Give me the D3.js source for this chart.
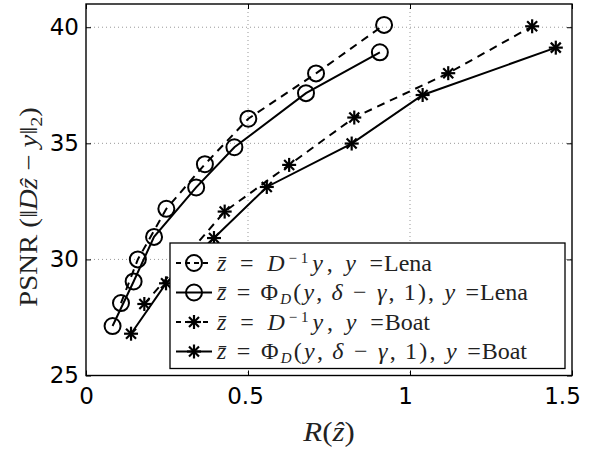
<!DOCTYPE html>
<html><head><meta charset="utf-8">
<script src="https://cdn.jsdelivr.net/npm/d3@7"></script>
<style>body{margin:0;background:#fff}svg{display:block}</style>
</head><body>
<svg id="c" width="593" height="451"></svg>
<script>
const xTicks = [0, 0.5, 1, 1.5];
const yTicks = [25, 30, 35, 40];
const xTickLabels = ["0", "0.5", "1", "1.5"];
const yTickLabels = ["25", "30", "35", "40"];

const lenaInvR = [0.108, 0.160, 0.248, 0.367, 0.501, 0.710, 0.920];
const lenaInvP = [28.12, 30.00, 32.18, 34.10, 36.06, 38.01, 40.10];
const lenaPhiR = [0.082, 0.147, 0.210, 0.340, 0.458, 0.679, 0.907];
const lenaPhiP = [27.13, 29.05, 30.97, 33.10, 34.83, 37.16, 38.92];
const boatInvR = [0.180, 0.300, 0.428, 0.627, 0.828, 1.118, 1.377];
const boatInvP = [28.08, 30.00, 32.06, 34.07, 36.11, 38.02, 40.04];
const boatPhiR = [0.139, 0.247, 0.395, 0.558, 0.820, 1.039, 1.450];
const boatPhiP = [26.80, 28.97, 30.92, 33.12, 34.99, 37.08, 39.12];

const series = [
  {r: lenaInvR, p: lenaInvP, dashed: true, marker: "circle"},
  {r: lenaPhiR, p: lenaPhiP, dashed: false, marker: "circle"},
  {r: boatInvR, p: boatInvP, dashed: true, marker: "star"},
  {r: boatPhiR, p: boatPhiP, dashed: false, marker: "star"}
];

const svg = d3.select("#c");
const L = 86, R = 572, T = 4, B = 375.5;
const x = d3.scaleLinear().domain([0, 1.5]).range([L, R]);
const y = d3.scaleLinear().domain([25, 41]).range([B, T]);

// grid
const g = svg.append("g");
xTicks.filter(v => v > 0 && v < 1.5).forEach(v => {
  g.append("line").attr("x1", x(v)).attr("x2", x(v)).attr("y1", T).attr("y2", B)
   .attr("stroke", "#999").attr("stroke-width", 1).attr("stroke-dasharray", "1,3");
});
yTicks.filter(v => v > 25).forEach(v => {
  g.append("line").attr("x1", L).attr("x2", R).attr("y1", y(v)).attr("y2", y(v))
   .attr("stroke", "#999").attr("stroke-width", 1).attr("stroke-dasharray", "1,3");
});

// axes with inward ticks on all sides
const xLabelShift = [0, -3, -5, -10];
const axB = svg.append("g").attr("transform", `translate(0,${B})`)
  .call(d3.axisBottom(x).tickValues(xTicks).tickFormat((d, i) => xTickLabels[i]).tickSizeInner(-5).tickSizeOuter(0).tickPadding(12));
const axT = svg.append("g").attr("transform", `translate(0,${T})`)
  .call(d3.axisTop(x).tickValues(xTicks).tickFormat("").tickSizeInner(-5).tickSizeOuter(0));
const axL = svg.append("g").attr("transform", `translate(${L},0)`)
  .call(d3.axisLeft(y).tickValues(yTicks).tickFormat((d, i) => yTickLabels[i]).tickSizeInner(-5).tickSizeOuter(0).tickPadding(7));
const axR = svg.append("g").attr("transform", `translate(${R},0)`)
  .call(d3.axisRight(y).tickValues(yTicks).tickFormat("").tickSizeInner(-5).tickSizeOuter(0));
[axB, axT, axL, axR].forEach(a => {
  a.select(".domain").remove();
  a.selectAll("line").attr("stroke", "#000").attr("stroke-width", 1);
  a.selectAll("text").attr("font-family", "DejaVu Sans, sans-serif").attr("font-size", 23).attr("fill", "#000");
});
axB.selectAll("text").attr("dy", "0.71em").attr("dx", (d, i) => xLabelShift[i]);
svg.append("rect").attr("x", L).attr("y", T).attr("width", R - L).attr("height", B - T)
  .attr("fill", "none").attr("stroke", "#000").attr("stroke-width", 1.4);

// markers
function drawMarker(sel, type, cx, cy) {
  if (type === "circle") {
    sel.append("circle").attr("cx", cx).attr("cy", cy).attr("r", 8)
      .attr("fill", "none").attr("stroke", "#000").attr("stroke-width", 2);
  } else {
    const s = 7, d = 5;
    const segs = [[-s,0,s,0],[0,-s,0,s],[-d,-d,d,d],[-d,d,d,-d]];
    segs.forEach(q => sel.append("line").attr("x1", cx+q[0]).attr("y1", cy+q[1])
      .attr("x2", cx+q[2]).attr("y2", cy+q[3]).attr("stroke", "#000").attr("stroke-width", 2.2));
  }
}

const line = d3.line().x(d => x(d[0])).y(d => y(d[1]));
series.forEach(s => {
  const pts = s.r.map((v, i) => [v, s.p[i]]);
  svg.append("path").attr("d", line(pts)).attr("fill", "none").attr("stroke", "#000")
    .attr("stroke-width", 2).attr("stroke-dasharray", s.dashed ? "8,6" : null);
  const mg = svg.append("g");
  pts.forEach(p => drawMarker(mg, s.marker, x(p[0]), y(p[1])));
});

// legend
const lg = svg.append("g");
lg.append("rect").attr("x", 170).attr("y", 243).attr("width", 395).attr("height", 125.5)
  .attr("fill", "#fff").attr("stroke", "#000").attr("stroke-width", 1.3);
const rowsY = [263, 292.5, 322, 351.5];
const rowEnds = [432, 528, 430, 527];
const legendWords = ["Lena", "Lena", "Boat", "Boat"];
const mathInv = [["z̄", "i"], ["\u2005=\u2005", "n"], ["D", "i"], ["−1", "sup"], ["y", "i"], [",\u2009", "n"], ["y", "i"], ["\u2005=", "n"]];
const mathPhi = [["z̄", "i"], ["\u2005=\u2005", "n"], ["Φ", "n"], ["D", "sub"], ["(", "n"], ["y", "i"], [",\u2009", "n"], ["δ", "i"], ["\u2005−\u2005", "n"], ["γ", "i"], [",\u20091),\u2005", "n"], ["y", "i"], ["\u2005=", "n"]];
const legendMath = [mathInv, mathPhi, mathInv, mathPhi];
const FS = 24;
series.forEach((s, i) => {
  const cy = rowsY[i];
  lg.append("line").attr("x1", 176).attr("x2", 212).attr("y1", cy).attr("y2", cy)
    .attr("stroke", "#000").attr("stroke-width", 2).attr("stroke-dasharray", s.dashed ? "5,4" : null);
  drawMarker(lg, s.marker, 194, cy);
  const word = lg.append("text").attr("x", rowEnds[i]).attr("y", cy + 7.5).attr("text-anchor", "end")
    .attr("font-family", "Liberation Serif, Times New Roman, serif").attr("font-size", FS).attr("fill", "#222")
    .text(legendWords[i]);
  const wStart = rowEnds[i] - word.node().getComputedTextLength();
  const t = lg.append("text").attr("x", 217).attr("y", cy + 7.5)
    .attr("font-family", "Liberation Serif, Times New Roman, serif").attr("font-size", FS).attr("fill", "#222")
    .style("white-space", "pre");
  let shifted = 0;
  legendMath[i].forEach(([txt, st]) => {
    const ts = t.append("tspan").text(txt);
    if (st === "i") ts.attr("font-style", "italic");
    if (st === "sup") { ts.attr("font-size", 15).attr("dy", -8 - shifted); shifted = -8; }
    else if (st === "sub") { ts.attr("font-size", 15).attr("font-style", "italic").attr("dy", 4 - shifted); shifted = 4; }
    else if (shifted !== 0) { ts.attr("dy", -shifted); shifted = 0; }
  });
  const nat = t.node().getComputedTextLength();
  const target = wStart - 1 - 217;
  if (Math.abs(nat - target) > 2) t.attr("textLength", target).attr("lengthAdjust", "spacing");
});

// axis labels
const xl = svg.append("text").attr("transform", "translate(329,441) scale(1.1,1)").attr("text-anchor", "middle")
  .attr("font-family", "Liberation Serif, Times New Roman, serif").attr("font-size", 28).attr("fill", "#222");
xl.append("tspan").text("R").attr("font-style", "italic");
xl.append("tspan").text("(");
xl.append("tspan").text("ẑ").attr("font-style", "italic");
xl.append("tspan").text(")");

const yl = svg.append("text").attr("transform", "translate(37,207) rotate(-90) scale(1.15,1)").attr("text-anchor", "middle")
  .attr("font-family", "Liberation Serif, Times New Roman, serif").attr("font-size", 25).attr("fill", "#222")
  .style("white-space", "pre");
yl.append("tspan").text("PSNR (‖");
yl.append("tspan").text("D").attr("font-style", "italic");
yl.append("tspan").text("ẑ").attr("font-style", "italic");
yl.append("tspan").text(" − ");
yl.append("tspan").text("y").attr("font-style", "italic");
yl.append("tspan").text("‖");
yl.append("tspan").text("2").attr("font-size", 17).attr("dy", 5);
yl.append("tspan").text(")").attr("dy", -5);
</script>
</body></html>
